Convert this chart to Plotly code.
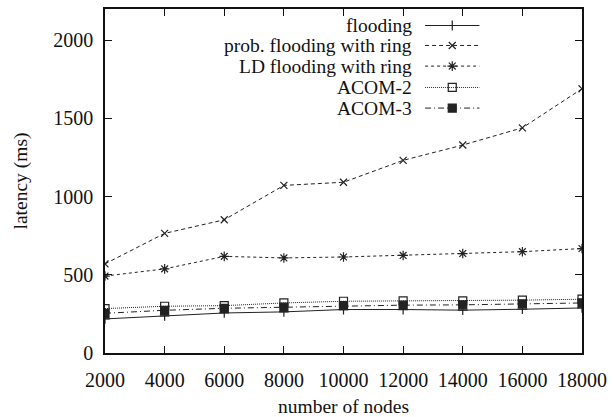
import plotly.graph_objects as go

# Network size (x) and measured latency in ms for each protocol
nodes = [2000, 4000, 6000, 8000, 10000, 12000, 14000, 16000, 18000]
flooding = [218, 237, 256, 263, 278, 278, 274, 280, 288]
prob_flooding_ring = [570, 765, 852, 1072, 1092, 1232, 1330, 1440, 1690]
ld_flooding_ring = [492, 538, 618, 608, 614, 624, 636, 648, 668]
acom2 = [284, 299, 303, 320, 331, 333, 333, 338, 344]
acom3 = [254, 273, 286, 293, 303, 306, 308, 314, 320]

series_names = ["flooding", "prob. flooding with ring", "LD flooding with ring",
                "ACOM-2", "ACOM-3"]
series_values = [flooding, prob_flooding_ring, ld_flooding_ring, acom2, acom3]

x_ticks = [2000, 4000, 6000, 8000, 10000, 12000, 14000, 16000, 18000]
x_tick_labels = ["2000", "4000", "6000", "8000", "10000", "12000", "14000",
                 "16000", "18000"]
y_ticks = [0, 500, 1000, 1500, 2000]
y_tick_labels = ["0", "500", "1000", "1500", "2000"]

# gnuplot-like styles: dash pattern, marker symbol, marker size
styles = [
    ("solid", "cross-thin", 7),
    ("4px,3px", "x-thin", 7),
    ("3px,3px", "asterisk", 8),
    ("1px,1px", "square-open", 8),
    ("6px,3px,1px,3px", "square", 8),
]

FONT = "Liberation Serif"
INK = "#222222"

fig = go.Figure()
for name, vals, (dash, sym, msz) in zip(series_names, series_values, styles):
    fig.add_trace(go.Scatter(
        x=nodes, y=vals, mode="lines+markers", name=name, showlegend=False,
        line=dict(color=INK, width=1, dash=dash),
        marker=dict(symbol=sym, size=msz, color=INK,
                    line=dict(color=INK, width=1.2)),
    ))

# Key: right-aligned labels with line samples to their right (overlay axes 0..1)
key_text_x = 0.646
key_line_x0, key_line_x1 = 0.671, 0.785
key_rows = [0.952, 0.894, 0.834, 0.772, 0.712]
for name, ky, (dash, sym, msz) in zip(series_names, key_rows, styles):
    fig.add_trace(go.Scatter(
        x=[key_line_x0, key_line_x1], y=[ky, ky], mode="lines",
        xaxis="x2", yaxis="y2", showlegend=False, hoverinfo="skip",
        line=dict(color=INK, width=1, dash=dash),
    ))
    fig.add_trace(go.Scatter(
        x=[(key_line_x0 + key_line_x1) / 2], y=[ky], mode="markers",
        xaxis="x2", yaxis="y2", showlegend=False, hoverinfo="skip",
        marker=dict(symbol=sym, size=msz, color=INK,
                    line=dict(color=INK, width=1.2)),
    ))
    fig.add_annotation(
        x=key_text_x, y=ky, xref="x2", yref="y2", text=name,
        showarrow=False, xanchor="right", yanchor="middle",
        font=dict(family=FONT, size=19.5, color="#111111"),
        borderpad=0,
    )

axis_common = dict(
    showline=True, linecolor="#111111", linewidth=1.5, mirror="ticks",
    ticks="inside", ticklen=7, tickcolor="#111111", tickwidth=1.2,
    showgrid=False, zeroline=False, automargin=False,
    tickfont=dict(family=FONT, size=20, color="#111111"),
)

fig.update_layout(
    width=614, height=417,
    margin=dict(l=105, r=32, t=9, b=64),
    paper_bgcolor="white", plot_bgcolor="white",
    xaxis=dict(range=[2000, 18000], tickvals=x_ticks, ticktext=x_tick_labels,
               ticklabelstandoff=8,
               title=dict(text="number of nodes", standoff=10,
                          font=dict(family=FONT, size=19.5, color="#111111")),
               **axis_common),
    yaxis=dict(range=[0, 2200], tickvals=y_ticks, ticktext=y_tick_labels,
               ticklabelstandoff=6,
               title=dict(text="latency (ms)", standoff=20,
                          font=dict(family=FONT, size=19.5, color="#111111")),
               **axis_common),
    xaxis2=dict(overlaying="x", range=[0, 1], visible=False, fixedrange=True),
    yaxis2=dict(overlaying="y", range=[0, 1], visible=False, fixedrange=True),
)

fig.write_html("out.html")
